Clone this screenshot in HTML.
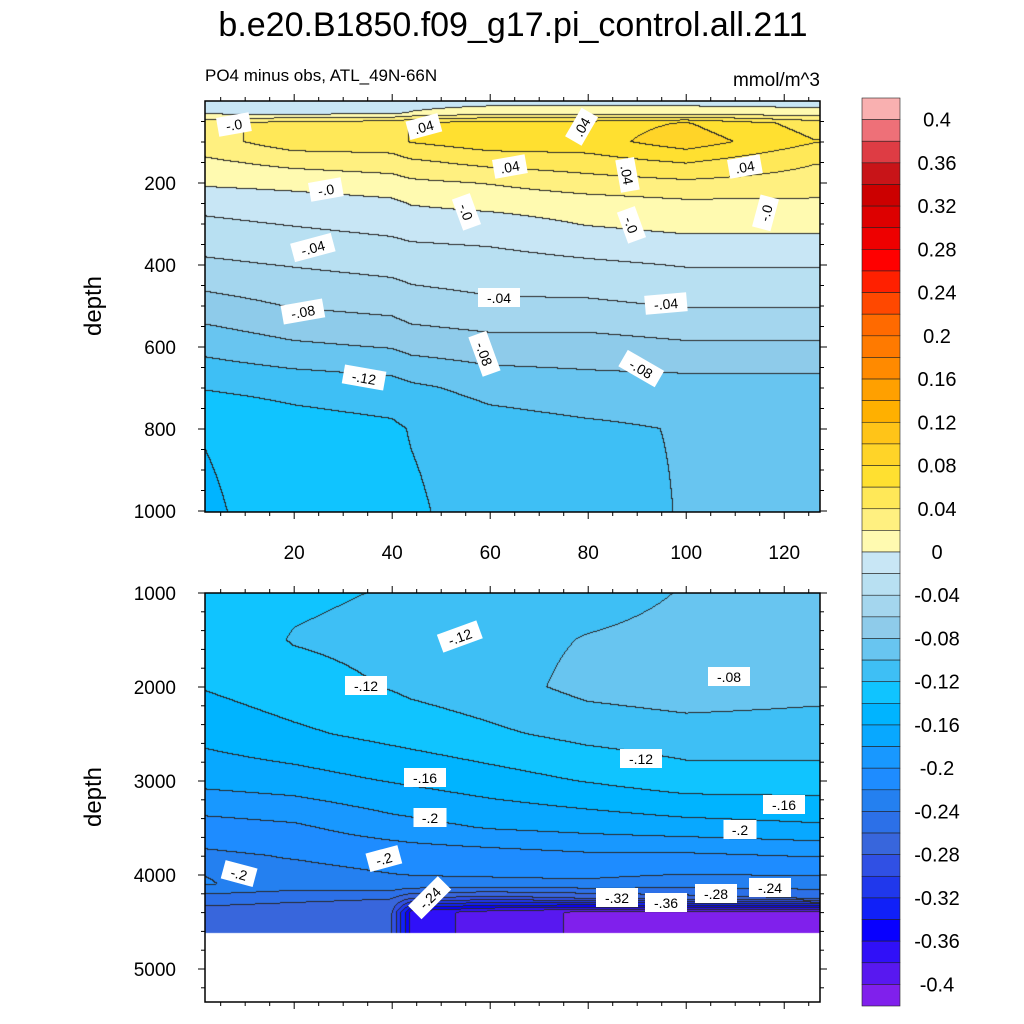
<!DOCTYPE html>
<html><head><meta charset="utf-8">
<style>
body{margin:0;background:#fff;font-family:"Liberation Sans",sans-serif;}
#wrap{position:relative;width:1024px;height:1024px;overflow:hidden;}
canvas{position:absolute;left:0;top:0;}
svg{position:absolute;left:0;top:0;}
</style></head>
<body>
<div id="wrap">
<canvas id="cv" width="1024" height="1024"></canvas>
<svg id="sv" width="1024" height="1024"></svg>
</div>
<script>
// ---- data ----
const levels = [-0.40,-0.38,-0.36,-0.34,-0.32,-0.30,-0.28,-0.26,-0.24,-0.22,-0.20,-0.18,-0.16,-0.14,-0.12,-0.10,-0.08,-0.06,-0.04,-0.02,0,0.02,0.04,0.06,0.08,0.10,0.12,0.14,0.16,0.18,0.20,0.22,0.24,0.26,0.28,0.30,0.32,0.34,0.36,0.38,0.40];
const colors = ["#8020ec","#5818f0","#3010f8","#0800ff","#1020f8","#2038ec","#3050e4","#3866dc","#2c70e8","#2480f0","#1e8cff","#1898ff","#08a8ff","#00b4ff","#10c4ff","#3ebff5","#68c5f0","#8ecbea","#a4d6ee","#b8e0f2","#c8e6f5",
"#fffab0","#fff080","#ffe858","#ffe030","#ffd428","#ffc418","#ffb000","#ffa000","#ff8a00","#ff7a00","#ff6a00","#ff4800","#ff2000","#ff0000","#ee0000","#dd0000","#cc0000","#c81418","#de3c44","#ee7078","#f9b0b0"];
const colsX = [2,20,40,44,60,80,100,126];
const topDepths = [0,30,55,100,150,200,250,300,400,500,600,700,800,1000];
const topValues = [
[-0.01,-0.01,-0.01,-0.01,-0.01,-0.01,-0.01,-0.01],
[-0.005,-0.01,-0.005,0.0,0.01,0.01,0.01,0.005],
[0.03,0.05,0.05,0.06,0.07,0.07,0.08,0.05],
[0.03,0.05,0.05,0.06,0.07,0.07,0.09,0.06],
[0.015,0.025,0.03,0.035,0.045,0.05,0.06,0.04],
[0.002,0.005,0.01,0.015,0.02,0.03,0.035,0.03],
[-0.015,-0.01,-0.005,0.0,0.005,0.01,0.015,0.015],
[-0.025,-0.02,-0.015,-0.012,-0.01,0.0,0.005,0.005],
[-0.045,-0.04,-0.035,-0.033,-0.03,-0.025,-0.02,-0.02],
[-0.07,-0.06,-0.055,-0.05,-0.045,-0.045,-0.04,-0.04],
[-0.095,-0.085,-0.08,-0.075,-0.07,-0.07,-0.065,-0.065],
[-0.12,-0.115,-0.11,-0.105,-0.095,-0.09,-0.09,-0.09],
[-0.14,-0.13,-0.125,-0.12,-0.11,-0.105,-0.1,-0.1],
[-0.145,-0.13,-0.13,-0.125,-0.11,-0.11,-0.1,-0.1]];
const botDepths = [1000,1500,2000,2500,3000,3500,3800,4100,4250,4400,4620];
const botValues = [
[-0.13,-0.125,-0.12,-0.118,-0.11,-0.11,-0.1,-0.1],
[-0.135,-0.12,-0.115,-0.113,-0.11,-0.1,-0.095,-0.1],
[-0.14,-0.13,-0.12,-0.117,-0.11,-0.095,-0.09,-0.095],
[-0.155,-0.145,-0.135,-0.133,-0.125,-0.115,-0.11,-0.11],
[-0.175,-0.17,-0.16,-0.158,-0.15,-0.14,-0.13,-0.13],
[-0.21,-0.205,-0.19,-0.188,-0.18,-0.175,-0.17,-0.165],
[-0.225,-0.22,-0.215,-0.213,-0.21,-0.205,-0.205,-0.2],
[-0.22,-0.23,-0.225,-0.225,-0.225,-0.225,-0.23,-0.23],
[-0.25,-0.255,-0.26,-0.28,-0.29,-0.28,-0.27,-0.26],
[-0.27,-0.275,-0.28,-0.37,-0.39,-0.405,-0.41,-0.405],
[-0.27,-0.275,-0.28,-0.37,-0.39,-0.405,-0.415,-0.41]];
const xTicks = [20,40,60,80,100,120];
const topYTicks = [200,400,600,800,1000];
const botYTicks = [1000,2000,3000,4000,5000];
const cbLabels = ["0.4","0.36","0.32","0.28","0.24","0.2","0.16","0.12","0.08","0.04","0","-0.04","-0.08","-0.12","-0.16","-0.2","-0.24","-0.28","-0.32","-0.36","-0.4"];

// ---- geometry ----
const PX0=205, PX1=820;
const xMin=1.8, xMax=127.3;
const sx = x => PX0 + (x-xMin)/(xMax-xMin)*(PX1-PX0);
const topY = d => 101 + d*0.41;
const botY = d => 593 + (d-1000)*0.094;
const topPanel={y0:101,y1:512,inv:y=>(y-101)/0.41,depths:topDepths,vals:topValues};
const botPanel={y0:593,y1:933,inv:y=>1000+(y-593)/0.094,depths:botDepths,vals:botValues};

function interp(arr,v){
  if(v<=arr[0])return [0,0];
  for(let i=0;i<arr.length-1;i++){ if(v<=arr[i+1]) return [i,(v-arr[i])/(arr[i+1]-arr[i])]; }
  return [arr.length-2,1];
}
function valueAt(p,x,d){
  const [i,fx]=interp(colsX,x), [j,fy]=interp(p.depths,d);
  const v=p.vals;
  const a=v[j][i]*(1-fx)+v[j][i+1]*fx, b=v[j+1][i]*(1-fx)+v[j+1][i+1]*fx;
  return a*(1-fy)+b*fy;
}
function bin(v){v+=0.0013;let k=0;while(k<levels.length&&v>=levels[k])k++;return k;}
function hex(c){return [parseInt(c.substr(1,2),16),parseInt(c.substr(3,2),16),parseInt(c.substr(5,2),16)];}
const rgb=colors.map(hex);

const cv=document.getElementById('cv'),ctx=cv.getContext('2d');
const img=ctx.createImageData(1024,1024);
function drawPanel(p){
  const W=PX1-PX0, H=p.y1-p.y0;
  const bins=[];
  for(let yy=0;yy<H;yy++){const row=[];const d=p.inv(p.y0+yy+0.5);
    for(let xx=0;xx<W;xx++){const x=xMin+(xx+0.5)/W*(xMax-xMin);row.push(bin(valueAt(p,x,d)));}
    bins.push(row);}
  for(let yy=0;yy<H;yy++)for(let xx=0;xx<W;xx++){
    const b=bins[yy][xx];let c=rgb[b];
    const edge=(xx<W-1&&bins[yy][xx+1]!==b)||(yy<H-1&&bins[yy+1][xx]!==b);
    if(edge)c=[40,40,40];
    const o=((p.y0+yy)*1024+PX0+xx)*4;
    img.data[o]=c[0];img.data[o+1]=c[1];img.data[o+2]=c[2];img.data[o+3]=255;}
}
drawPanel(topPanel);drawPanel(botPanel);
ctx.putImageData(img,0,0);

// ---- svg ----
const NS="http://www.w3.org/2000/svg", sv=document.getElementById('sv');
function mk(tag,attrs,txt){const e=document.createElementNS(NS,tag);for(const k in attrs)e.setAttribute(k,attrs[k]);if(txt!==undefined)e.textContent=txt;sv.appendChild(e);return e;}

let t=mk('text',{x:513,y:36,'font-size':34,'text-anchor':'middle',fill:'#000'},'b.e20.B1850.f09_g17.pi_control.all.211');

t=mk('text',{x:205,y:81,'font-size':17,fill:'#000'},'PO4 minus obs, ATL_49N-66N');

t=mk('text',{x:820,y:86,'font-size':19,'text-anchor':'end',fill:'#000'},'mmol/m^3');

t=mk('text',{x:0,y:0,'font-size':24,'text-anchor':'middle',transform:'translate(101,306) rotate(-90)'},'depth');

t=mk('text',{x:0,y:0,'font-size':24,'text-anchor':'middle',transform:'translate(101,797) rotate(-90)'},'depth');


let f=mk('rect',{x:205,y:101,width:615,height:411,fill:'none',stroke:'#000','stroke-width':1.5});

f=mk('rect',{x:205,y:593,width:615,height:409,fill:'none',stroke:'#000','stroke-width':1.5});


function tick(x1,y1,x2,y2,name){const l=mk('line',{x1,y1,x2,y2,stroke:'#000','stroke-width':1});}
for(let v=5;v<=125;v+=5){const x=sx(v);const major=v%20===0;const L=major?7:4;
  tick(x,512,x,512+L,'x-tick');tick(x,101,x,101-L,'x-tick');tick(x,593,x,593-L,'x-tick');tick(x,1002,x,1002+L,'x-tick');}
xTicks.forEach(v=>{const e=mk('text',{x:sx(v),y:559,'font-size':19,'text-anchor':'middle'},String(v));});
for(let d=50;d<=1000;d+=50){const y=topY(d);const L=d%200===0?7:4;tick(205-L,y,205,y,'y-tick');tick(820,y,820+L,y,'y-tick');}
topYTicks.forEach(d=>{const e=mk('text',{x:176,y:topY(d)+7,'font-size':19,'text-anchor':'end'},String(d));});
for(let d=1000;d<=5300;d+=200){const y=botY(d);const L=d%1000===0?7:4;tick(205-L,y,205,y,'y-tick');tick(820,y,820+L,y,'y-tick');}
botYTicks.forEach(d=>{const e=mk('text',{x:176,y:botY(d)+7,'font-size':19,'text-anchor':'end'},String(d));});

const labels=[
[234,125,'-.0',-10],[424,127,'.04',-15],[582,127,'.04',-60],[510,167,'.04',-10],[627,175,'.04',80],[745,167,'.04',-10],
[326,190,'-.0',-10],[466,212,'-.0',70],[631,225,'-.0',70],[766,213,'-.0',-75],
[313,248,'-.04',-15],[499,298,'-.04',0],[666,304,'-.04',-5],[303,312,'-.08',-10],
[484,354,'-.08',70],[641,369,'-.08',30],[364,378,'-.12',10],
[460,637,'-.12',-20],[366,686,'-.12',0],[729,677,'-.08',0],[641,759,'-.12',0],
[425,778,'-.16',0],[784,805,'-.16',0],[430,818,'-.2',0],[740,830,'-.2',0],[384,859,'-.2',-15],
[239,874,'-.2',15],[430,898,'-.24',-45],[617,898,'-.32',0],[666,903,'-.36',0],[716,894,'-.28',0],[770,888,'-.24',0]];
labels.forEach(l=>{
  const g=mk('g',{transform:`translate(${l[0]},${l[1]}) rotate(${l[3]})`});
  
  const w=l[2].length*9+6;
  const r=document.createElementNS(NS,'rect');r.setAttribute('x',-w/2);r.setAttribute('y',-10);r.setAttribute('width',w);r.setAttribute('height',19);r.setAttribute('fill','#fff');g.appendChild(r);
  const tx=document.createElementNS(NS,'text');tx.setAttribute('x',0);tx.setAttribute('y',5);tx.setAttribute('font-size',14);tx.setAttribute('text-anchor','middle');tx.textContent=l[2];g.appendChild(tx);
});

const cbY0=98, cbH=908/42;
for(let i=0;i<42;i++){
  const r=mk('rect',{x:862,y:cbY0+i*cbH,width:38,height:cbH,fill:colors[41-i],stroke:'#222','stroke-width':0.6});
  
}
cbLabels.forEach((s,k)=>{const i=1+2*k;const e=mk('text',{x:937,y:cbY0+i*cbH+7,'font-size':20,'text-anchor':'middle'},s);});
</script>
</body></html>
